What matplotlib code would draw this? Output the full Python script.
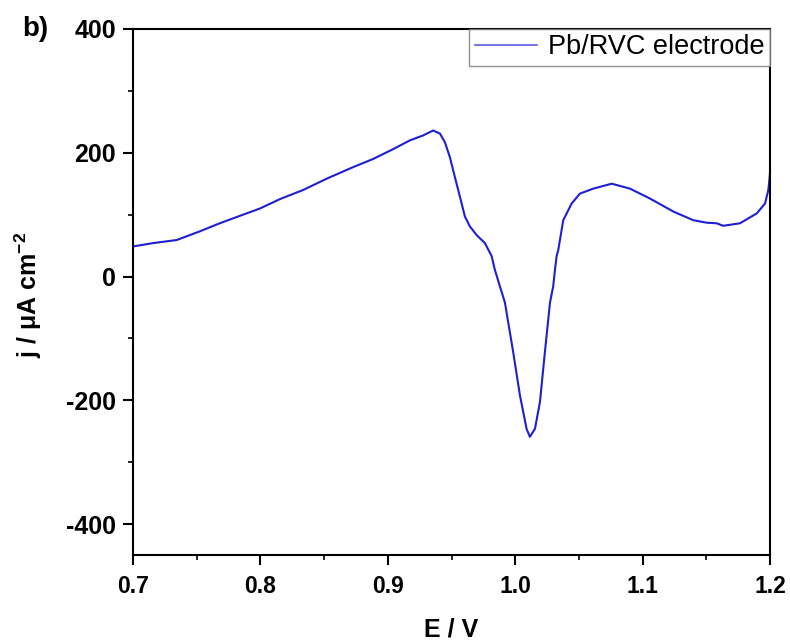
import matplotlib
matplotlib.use("Agg")
import matplotlib.pyplot as plt
from matplotlib.ticker import MultipleLocator

plt.rcParams['font.family'] = ['Liberation Sans', 'DejaVu Sans']
plt.rcParams['axes.unicode_minus'] = False
plt.rcParams['mathtext.fontset'] = 'custom'
plt.rcParams['mathtext.rm'] = 'Liberation Sans'
plt.rcParams['mathtext.bf'] = 'Liberation Sans:bold'

# Potential (V) and current density (uA cm^-2)
E = [0.700, 0.7157, 0.7343, 0.7524, 0.768, 0.7838, 0.7997, 0.8152, 0.8337,
     0.8519, 0.873, 0.8885, 0.9043, 0.9173, 0.9277, 0.9356, 0.9409, 0.9448,
     0.9487, 0.9526, 0.9566, 0.9605, 0.9644, 0.9697, 0.9762, 0.9815, 0.984,
     0.988, 0.9919, 0.9984, 1.0037, 1.0089, 1.0115, 1.0155, 1.0194, 1.0233,
     1.0273, 1.0298, 1.0312, 1.0325, 1.0338, 1.0377, 1.0443, 1.0508, 1.0612,
     1.0757, 1.0901, 1.1058, 1.1241, 1.1398, 1.1503, 1.1582, 1.1633, 1.1764,
     1.1896, 1.1961, 1.1987, 1.1995, 1.2000]
j = [48.6, 54, 59, 73, 86, 98, 110, 125, 140,
     158, 177, 190, 206, 220, 228, 236, 231, 217,
     193, 161, 129, 97, 81, 67, 54, 33, 11,
     -16, -42, -122, -192, -246, -259, -246, -203, -122,
     -42, -16, 11, 33, 43, 91, 118, 134, 142,
     150, 142, 126, 105, 91, 87, 86, 82, 86,
     102, 118, 140, 156, 168]

series_label = "Pb/RVC electrode"
xticks = [0.7, 0.8, 0.9, 1.0, 1.1, 1.2]
yticks = [-400, -200, 0, 200, 400]

fig = plt.figure(figsize=(7.9, 6.4), dpi=100)
ax = fig.add_axes([0.1684, 0.1328, 0.8063, 0.8219])

ax.plot(E, j, color='#1e1ed6', lw=1.5, label=series_label,
        solid_joinstyle='round')

ax.set_xlim(0.7, 1.2)
ax.set_ylim(-450, 400)
ax.set_xticks(xticks)
ax.set_xticklabels([f"{v:.1f}" for v in xticks])
ax.set_yticks(yticks)
ax.xaxis.set_minor_locator(MultipleLocator(0.05))
ax.yaxis.set_minor_locator(MultipleLocator(100))

for s in ax.spines.values():
    s.set_linewidth(1.5)
ax.tick_params(which='major', direction='out', length=7.2, width=1.5,
               top=False, right=False)
ax.tick_params(which='minor', direction='out', length=3.6, width=1.2,
               top=False, right=False)
ax.tick_params(axis='x', labelsize=16.5, pad=7)
ax.tick_params(axis='y', labelsize=18, pad=5)
for lab in ax.get_xticklabels() + ax.get_yticklabels():
    lab.set_fontweight('bold')

ax.set_xlabel("E / V", fontsize=18, fontweight='bold', va='center')
ax.xaxis.set_label_coords(0.5, -0.1407)
ax.set_ylabel(r"j / $\mathbf{\mu}$A cm$^{\mathbf{-2}}$", fontsize=18,
              fontweight='bold', va='center')
ax.yaxis.set_label_coords(-0.165, 0.494)

leg = ax.legend(loc='upper right', fontsize=19.5, frameon=True, fancybox=False,
                borderaxespad=0, handlelength=2.3, borderpad=0.2,
                handletextpad=0.4)
leg.get_frame().set_edgecolor('#777777')
leg.get_frame().set_linewidth(1.0)
leg.get_lines()[0].set_color('#5a5ae0')
leg.get_lines()[0].set_linewidth(1.2)

fig.text(0.028, 1 - 29 / 640, "b)", fontsize=20, fontweight='bold',
         va='center')

fig.savefig("out.png", dpi=100)
